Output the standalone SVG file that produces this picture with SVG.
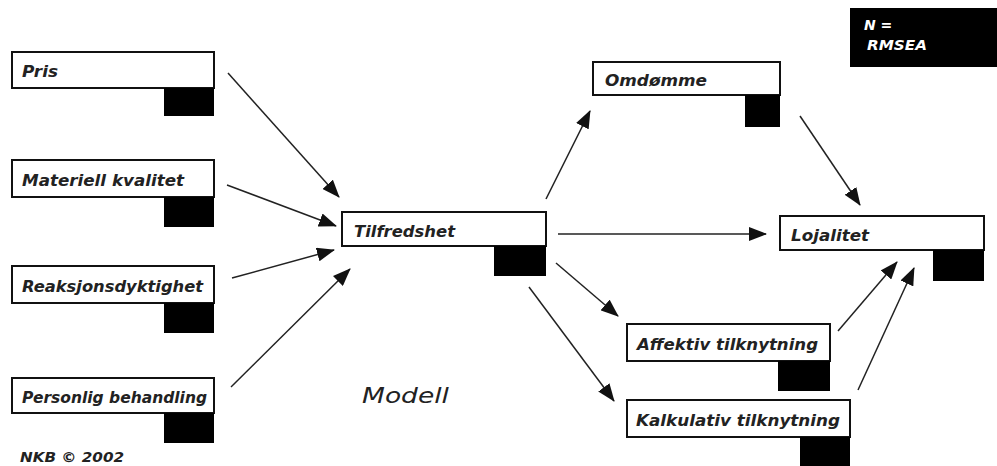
<svg xmlns="http://www.w3.org/2000/svg" width="997" height="466" viewBox="0 0 997 466">
<style>
.box{fill:#fff;stroke:#111;stroke-width:2}
.blk{fill:#000}
.lbl{font-family:"DejaVu Sans",Verdana,sans-serif;font-style:italic;font-weight:bold;font-size:16px;fill:#222}
.con{stroke:#222;stroke-width:1.5;fill:none;marker-end:url(#ah)}
.sm{font-family:"DejaVu Sans",Verdana,sans-serif;font-style:italic;font-weight:bold;font-size:14px}
</style>
<defs>
<marker id="ah" markerUnits="userSpaceOnUse" markerWidth="18" markerHeight="14" viewBox="0 0 18 14" refX="17" refY="7" orient="auto">
<path d="M0,0 L18,7 L0,14 Z" fill="#111"/>
</marker>
</defs>
<rect width="997" height="466" fill="#fff"/>
<g id="connectors">
<line class="con" x1="228" y1="73" x2="339" y2="197"/>
<line class="con" x1="227" y1="185" x2="336" y2="226"/>
<line class="con" x1="232" y1="278" x2="334" y2="250"/>
<line class="con" x1="231" y1="387" x2="350" y2="269"/>
<line class="con" x1="546" y1="199" x2="590" y2="111"/>
<line class="con" x1="800" y1="116" x2="860" y2="205"/>
<line class="con" x1="558" y1="234" x2="766" y2="234"/>
<line class="con" x1="556" y1="263" x2="618" y2="316"/>
<line class="con" x1="529" y1="287" x2="614" y2="401"/>
<line class="con" x1="838" y1="331" x2="897" y2="262"/>
<line class="con" x1="858" y1="390" x2="914" y2="268"/>
</g>
<g id="pris">
<rect class="box" x="12" y="52" width="202" height="36"/>
<rect class="blk" x="164" y="88" width="50" height="28"/>
<text class="lbl" x="22" y="77" textLength="36" lengthAdjust="spacingAndGlyphs">Pris</text>
</g>
<g id="materiell">
<rect class="box" x="12" y="160" width="202" height="37"/>
<rect class="blk" x="164" y="197" width="50" height="30"/>
<text class="lbl" x="22" y="186" textLength="162" lengthAdjust="spacingAndGlyphs">Materiell kvalitet</text>
</g>
<g id="reaksjon">
<rect class="box" x="12" y="266" width="202" height="37"/>
<rect class="blk" x="164" y="303" width="50" height="30"/>
<text class="lbl" x="22" y="292" textLength="181" lengthAdjust="spacingAndGlyphs">Reaksjonsdyktighet</text>
</g>
<g id="personlig">
<rect class="box" x="12" y="378" width="202" height="35"/>
<rect class="blk" x="164" y="413" width="50" height="30"/>
<text class="lbl" x="22" y="403" textLength="185" lengthAdjust="spacingAndGlyphs">Personlig behandling</text>
</g>
<g id="tilfredshet">
<rect class="box" x="342" y="212" width="204" height="34"/>
<rect class="blk" x="494" y="246" width="52" height="30"/>
<text class="lbl" x="354" y="237" textLength="101" lengthAdjust="spacingAndGlyphs">Tilfredshet</text>
</g>
<g id="omdomme">
<rect class="box" x="593" y="62" width="187" height="33"/>
<rect class="blk" x="745" y="95" width="35" height="32"/>
<text class="lbl" x="605" y="86" textLength="102" lengthAdjust="spacingAndGlyphs">Omdømme</text>
</g>
<g id="lojalitet">
<rect class="box" x="780" y="216" width="204" height="34"/>
<rect class="blk" x="933" y="250" width="51" height="31"/>
<text class="lbl" x="791" y="241" textLength="78" lengthAdjust="spacingAndGlyphs">Lojalitet</text>
</g>
<g id="affektiv">
<rect class="box" x="627" y="324" width="203" height="37"/>
<rect class="blk" x="778" y="361" width="52" height="30"/>
<text class="lbl" x="637" y="350" textLength="181" lengthAdjust="spacingAndGlyphs">Affektiv tilknytning</text>
</g>
<g id="kalkulativ">
<rect class="box" x="627" y="400" width="223" height="37"/>
<rect class="blk" x="800" y="437" width="50" height="29"/>
<text class="lbl" x="636" y="426" textLength="204" lengthAdjust="spacingAndGlyphs">Kalkulativ tilknytning</text>
</g>
<g id="legend">
<rect x="850" y="8" width="147" height="59" fill="#000"/>
<text class="sm" x="864" y="30" fill="#fff">N =</text>
<text class="sm" x="867" y="50" fill="#fff" textLength="60" lengthAdjust="spacingAndGlyphs">RMSEA</text>
</g>
<text x="362" y="403" font-family="DejaVu Sans,Verdana,sans-serif" font-style="italic" font-size="22" fill="#222" textLength="87" lengthAdjust="spacingAndGlyphs">Modell</text>
<text class="sm" x="20" y="462" fill="#222" textLength="104" lengthAdjust="spacingAndGlyphs">NKB © 2002</text>
</svg>
